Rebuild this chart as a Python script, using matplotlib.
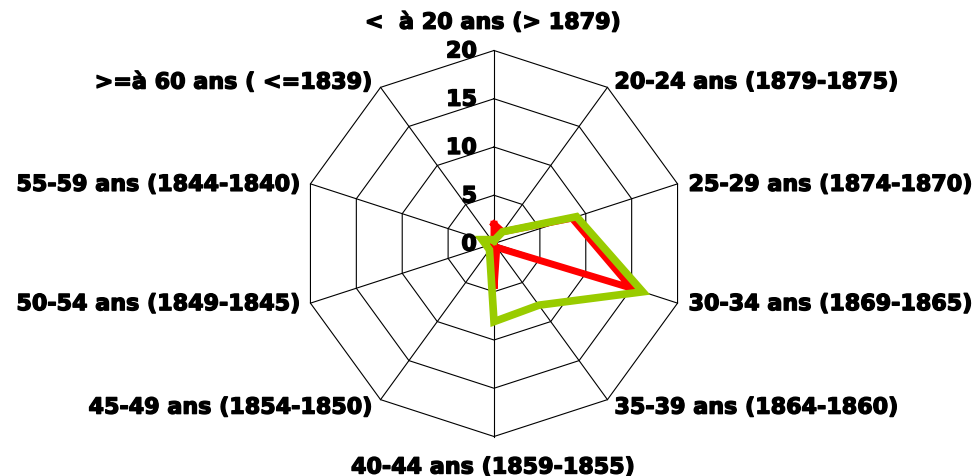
import numpy as np
import matplotlib
matplotlib.use("Agg")
import matplotlib.pyplot as plt
import matplotlib.patheffects as pe

categories = ["<  à 20 ans (> 1879)", "20-24 ans (1879-1875)", "25-29 ans (1874-1870)",
              "30-34 ans (1869-1865)", "35-39 ans (1864-1860)", "40-44 ans (1859-1855)",
              "45-49 ans (1854-1850)", "50-54 ans (1849-1845)", "55-59 ans (1844-1840)",
              ">=à 60 ans ( <=1839)"]
red_values = [2.0, 1.5, 8.5, 15.0, 0.5, 4.7, 0.0, 0.3, 1.3, 0.0]
green_values = [0.3, 1.5, 9.0, 16.2, 7.9, 8.1, 0.8, 0.8, 1.3, 0.5]
ticks = [0, 5, 10, 15, 20]

plt.rcParams['font.family'] = ['DejaVu Sans']
heavy = [pe.withStroke(linewidth=1.0, foreground="black")]

n = len(categories)
theta = np.pi / 2 - 2 * np.pi * np.arange(n) / n
unit = 9.65  # pixels per value unit

fig = plt.figure(figsize=(9.77, 4.77), dpi=100)
ax = fig.add_axes([0, 0, 1, 1])
ax.set_xlim(-494 / unit, (977 - 494) / unit)
ax.set_ylim(-232.5 / unit, 244.5 / unit)
ax.axis("off")

rmax = ticks[-1]
# spokes
for t in theta:
    ax.plot([0, rmax * np.cos(t)], [0, rmax * np.sin(t)], color="black", lw=0.8, zorder=1)
# rings
tc = np.append(theta, theta[0])
for r in ticks[1:]:
    ax.plot(r * np.cos(tc), r * np.sin(tc), color="black", lw=0.8, zorder=1)

def draw(vals, color, lw):
    v = np.append(vals, vals[0])
    ax.plot(v * np.cos(tc), v * np.sin(tc), color=color, lw=lw, solid_joinstyle="miter", zorder=3)

draw(np.array(red_values), "#ff0000", 5)
draw(np.array(green_values), "#99cc00", 5.5)

# tick labels
for r in ticks:
    ax.annotate(str(r), (0, r), xytext=(-17, -1), textcoords="offset pixels",
                ha="right", va="center", fontsize=16, fontweight="bold",
                path_effects=heavy, zorder=4)

# category labels
for i, (lab, t) in enumerate(zip(categories, theta)):
    x, y = rmax * np.cos(t), rmax * np.sin(t)
    c = np.cos(t)
    if abs(c) < 1e-6:
        ha = "center"
        dx = -1
        dy = 28 if np.sin(t) > 0 else -31
    elif c > 0:
        ha = "left"
        dx = 7 if c < 0.7 else 11
        dy = 5 if np.sin(t) > 0.7 else (-8 if np.sin(t) < -0.7 else -1)
    else:
        ha = "right"
        dx = -8 if c > -0.7 else -10
        dy = 5 if np.sin(t) > 0.7 else (-8 if np.sin(t) < -0.7 else -1)
    ax.annotate(lab, (x, y), xytext=(dx, dy), textcoords="offset pixels",
                ha=ha, va="center", fontsize=16, fontweight="bold", path_effects=heavy)

fig.savefig("out.png", dpi=100)
